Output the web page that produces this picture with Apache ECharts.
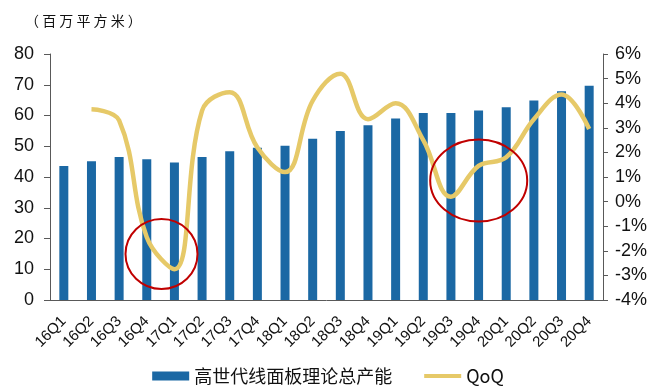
<!DOCTYPE html>
<html><head><meta charset="utf-8">
<script src="https://cdn.jsdelivr.net/npm/echarts@6/dist/echarts.min.js"></script>
<style>html,body{margin:0;padding:0;background:#fff}#c{width:656px;height:392px}</style>
</head><body><div id="c"></div>
<script>
var categories = ['16Q1','16Q2','16Q3','16Q4','17Q1','17Q2','17Q3','17Q4','18Q1','18Q2','18Q3','18Q4','19Q1','19Q2','19Q3','19Q4','20Q1','20Q2','20Q3','20Q4'];
var capacity = [43.6,45.1,46.5,45.8,44.7,46.5,48.4,49.5,50.2,52.4,55.0,56.8,59.0,60.8,60.8,61.6,62.7,64.9,67.9,69.7];
var qoq = ['-',3.75,3.3,-1.45,-2.75,3.7,4.45,2.2,1.2,4.1,5.2,3.35,4.0,2.5,0.2,1.45,1.8,3.35,4.35,2.95];
var leftTicks = {min:0, max:80, interval:10};
var rightTicks = {min:-4, max:6, interval:1};
var unitLabel = '（ 百 万 平 方 米 ）';
var barName = '高世代线面板理论总产能';
var lineName = 'QoQ';

var chart = echarts.init(document.getElementById('c'), null, {renderer:'canvas'});
var axisCol = '#595959';
var latin = '"Liberation Sans", Arial, sans-serif';
var cjk = '"Noto Sans CJK SC", sans-serif';
chart.setOption({
  animation:false,
  title:{text:unitLabel, left:20, top:9, textStyle:{fontFamily:cjk, fontSize:14, fontWeight:'normal', color:'#111'}},
  grid:{left:50, right:53, top:54, bottom:92, containLabel:false},
  legend:{bottom:2, left:'center', itemWidth:37, itemHeight:9, itemGap:32,
    textStyle:{fontFamily:cjk, fontSize:18, color:'#111'},
    data:[{name:barName, icon:'rect'},
          {name:lineName, icon:'path://M0,0 M37,9 M0,2.6 L37,2.6 L37,6.4 L0,6.4 Z'}]},
  xAxis:{type:'category', data:categories, boundaryGap:true,
    axisLine:{lineStyle:{color:axisCol, width:1}},
    axisTick:{alignWithLabel:false, length:5, lineStyle:{color:axisCol}},
    axisLabel:{rotate:45, margin:19, fontFamily:latin, fontSize:15, color:'#111', interval:0}},
  yAxis:[
    {type:'value', min:leftTicks.min, max:leftTicks.max, interval:leftTicks.interval, position:'left',
      splitLine:{show:false},
      axisLine:{show:true, lineStyle:{color:axisCol}},
      axisTick:{show:true, length:6, lineStyle:{color:axisCol}},
      axisLabel:{margin:16, fontFamily:latin, fontSize:18, color:'#111'}},
    {type:'value', min:rightTicks.min, max:rightTicks.max, interval:rightTicks.interval, position:'right',
      splitLine:{show:false},
      axisLine:{show:true, lineStyle:{color:axisCol}},
      axisTick:{show:true, length:5, lineStyle:{color:axisCol}},
      axisLabel:{margin:12, formatter:'{value}%', fontFamily:latin, fontSize:18, color:'#111'}}
  ],
  series:[
    {name:barName, type:'bar', data:capacity, barWidth:9, yAxisIndex:0,
      itemStyle:{color:'#1B68A4'}},
    {name:lineName, type:'line', data:qoq, yAxisIndex:1, smooth:0.4, symbol:'none',
      lineStyle:{color:'#E6C968', width:4.5}, itemStyle:{color:'#E6C968'}, z:3}
  ],
  graphic:[
    {type:'ellipse', shape:{cx:161.5, cy:254, rx:36, ry:35}, style:{fill:'none', stroke:'#C00000', lineWidth:2}, z:10},
    {type:'ellipse', shape:{cx:478.7, cy:180.5, rx:48.5, ry:41}, style:{fill:'none', stroke:'#C00000', lineWidth:2}, z:10}
  ]
});
</script></body></html>
